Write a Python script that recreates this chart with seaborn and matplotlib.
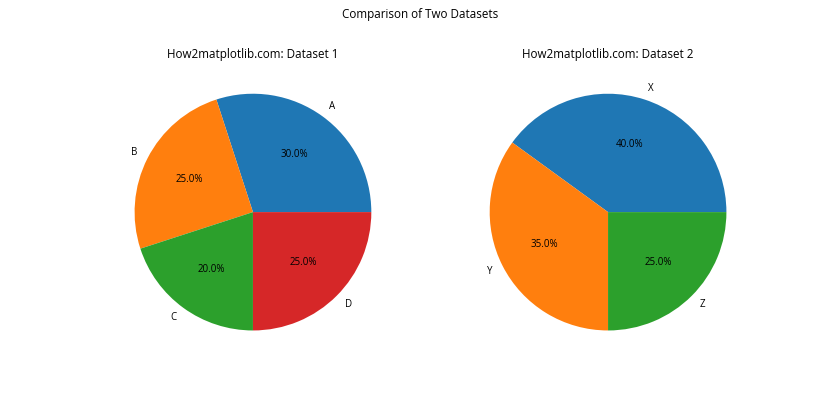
import matplotlib
matplotlib.use("Agg")
import matplotlib.pyplot as plt
import seaborn as sns

labels1 = ["A", "B", "C", "D"]
sizes1 = [30, 25, 20, 25]
labels2 = ["X", "Y", "Z"]
sizes2 = [40, 35, 25]

plt.rcParams["font.family"] = ["Open Sans", "DejaVu Sans"]
palette = sns.color_palette("tab10")

fig, (ax1, ax2) = plt.subplots(1, 2, figsize=(12, 6), dpi=70)
ax1.pie(sizes1, labels=labels1, autopct="%1.1f%%", colors=palette[:len(sizes1)])
ax1.set_title("How2matplotlib.com: Dataset 1")
ax2.pie(sizes2, labels=labels2, autopct="%1.1f%%", colors=palette[:len(sizes2)])
ax2.set_title("How2matplotlib.com: Dataset 2")
fig.suptitle("Comparison of Two Datasets")
fig.savefig("out.png", dpi=70)
